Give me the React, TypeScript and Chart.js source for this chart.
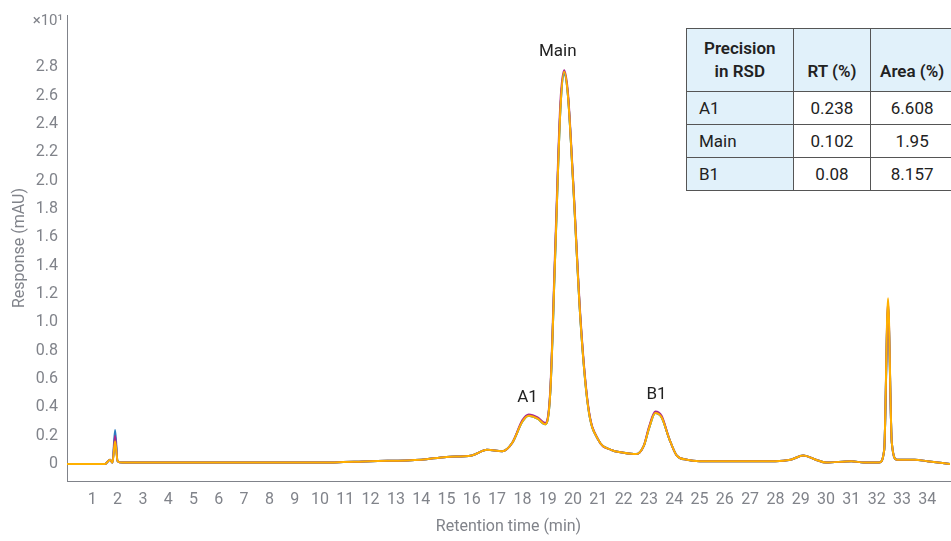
import { useEffect, useRef } from "react";
import { Chart, registerables } from "chart.js";

Chart.register(...registerables);

// retention times (min) and responses (x10 mAU)
const rt = [0, 1.5, 1.7, 1.8, 1.9, 2.0, 2.2, 3, 5, 8, 10, 12, 14, 15, 16, 16.6, 17.2, 17.6, 18.0, 18.25, 18.6, 18.9, 19.1, 19.3, 19.5, 19.65, 19.8, 20.0, 20.3, 20.6, 21.0, 21.5, 22.0, 22.5, 22.8, 23.0, 23.25, 23.5, 23.8, 24.1, 24.5, 25, 27, 28, 28.6, 29.1, 29.6, 30, 31, 31.5, 32.1, 32.3, 32.45, 32.6, 32.8, 33.5, 34, 34.9];
const orange = [0, 0, 0.03, 0.01, 0.16, 0.02, 0.01, 0.01, 0.01, 0.01, 0.01, 0.02, 0.03, 0.05, 0.06, 0.1, 0.09, 0.15, 0.3, 0.34, 0.32, 0.28, 0.5, 1.5, 2.5, 2.77, 2.6, 2.0, 1.0, 0.4, 0.17, 0.1, 0.08, 0.07, 0.13, 0.25, 0.36, 0.33, 0.18, 0.06, 0.03, 0.02, 0.02, 0.02, 0.03, 0.06, 0.03, 0.01, 0.02, 0.01, 0.01, 0.1, 1.17, 0.15, 0.03, 0.03, 0.02, 0.0];
const blue = [0, 0, 0.03, 0.01, 0.24, 0.02, 0.01, 0.01, 0.01, 0.01, 0.01, 0.02, 0.03, 0.05, 0.06, 0.1, 0.09, 0.15, 0.3, 0.34, 0.32, 0.28, 0.5, 1.5, 2.5, 2.75, 2.6, 2.0, 1.0, 0.4, 0.17, 0.1, 0.08, 0.07, 0.13, 0.25, 0.36, 0.33, 0.18, 0.06, 0.03, 0.02, 0.02, 0.02, 0.03, 0.06, 0.03, 0.01, 0.02, 0.01, 0.01, 0.1, 1.1, 0.15, 0.03, 0.03, 0.02, 0.0];
const purple = [0, 0, 0.03, 0.01, 0.2, 0.02, 0.01, 0.01, 0.01, 0.01, 0.01, 0.02, 0.03, 0.05, 0.06, 0.1, 0.09, 0.15, 0.31, 0.35, 0.33, 0.29, 0.52, 1.55, 2.55, 2.78, 2.62, 2.02, 1.02, 0.41, 0.17, 0.1, 0.08, 0.07, 0.13, 0.26, 0.37, 0.34, 0.18, 0.06, 0.03, 0.02, 0.02, 0.02, 0.03, 0.06, 0.03, 0.01, 0.02, 0.01, 0.01, 0.1, 1.14, 0.15, 0.03, 0.03, 0.02, 0.0];
const teal = [0, 0, 0.03, 0.01, 0.18, 0.02, 0.01, 0.01, 0.01, 0.01, 0.01, 0.02, 0.03, 0.05, 0.06, 0.1, 0.09, 0.15, 0.3, 0.34, 0.32, 0.28, 0.5, 1.5, 2.5, 2.76, 2.6, 2.0, 1.0, 0.4, 0.17, 0.1, 0.08, 0.07, 0.13, 0.25, 0.36, 0.33, 0.18, 0.06, 0.03, 0.02, 0.02, 0.02, 0.03, 0.06, 0.03, 0.01, 0.02, 0.01, 0.01, 0.1, 1.12, 0.15, 0.03, 0.03, 0.02, 0.0];

const peakNames = ["A1", "Main", "B1"];
const peakRt = [18.2, 19.4, 23.3];
const peakLabelY = [0.47, 2.91, 0.49];

const tableHead = ["Precision\nin RSD", "RT (%)", "Area (%)"];
const tableRows = [
  ["A1", "0.238", "6.608"],
  ["Main", "0.102", "1.95"],
  ["B1", "0.08", "8.157"],
];

const font = "Roboto, sans-serif";
const grey = "#80838a";

export default function App() {
  const canvasRef = useRef<HTMLCanvasElement>(null);
  const chartRef = useRef<Chart | null>(null);

  useEffect(() => {
    if (!canvasRef.current) return;
    if (chartRef.current) chartRef.current.destroy();

    const series = [
      { data: blue, color: "#2b7bc0", order: 4 },
      { data: teal, color: "#3fb5b0", order: 3 },
      { data: purple, color: "#a8288f", order: 2 },
      { data: orange, color: "#ffb000", order: 1 },
    ];

    const labelsPlugin = {
      id: "labels",
      afterDatasetsDraw(chart: any) {
        const { ctx, scales } = chart;
        ctx.save();
        ctx.font = `17px ${font}`;
        ctx.fillStyle = "#222";
        ctx.textAlign = "center";
        ctx.textBaseline = "middle";
        peakNames.forEach((n, i) => {
          ctx.fillText(n, scales.x.getPixelForValue(peakRt[i]), scales.y.getPixelForValue(peakLabelY[i]));
        });
        ctx.font = `15px ${font}`;
        ctx.fillStyle = grey;
        ctx.textAlign = "right";
        ctx.textBaseline = "top";
        ctx.fillText("×10¹", chart.chartArea.left - 4, 14);
        ctx.restore();
      },
    };

    chartRef.current = new Chart(canvasRef.current, {
      type: "line",
      data: {
        datasets: series.map((s) => ({
          data: rt.map((x, i) => ({ x, y: s.data[i] })),
          borderColor: s.color,
          borderWidth: 2,
          pointRadius: 0,
          cubicInterpolationMode: "monotone" as const,
          order: s.order,
        })),
      },
      options: {
        animation: false,
        responsive: false,
        layout: { padding: { top: 15, right: 1 } },
        plugins: { legend: { display: false }, tooltip: { enabled: false } },
        scales: {
          x: {
            type: "linear",
            min: 0,
            max: 34.9,
            grid: { display: false, drawTicks: true, tickLength: 6 },
            border: { color: grey },
            afterBuildTicks: (axis: any) => {
              const t = [];
              for (let i = 1; i <= 69; i++) t.push({ value: i / 2 });
              axis.ticks = t;
            },
            afterFit: (axis: any) => {
              axis.height = 60;
            },
            ticks: {
              autoSkip: false,
              maxRotation: 0,
              color: grey,
              font: { family: font, size: 16 },
              callback: (v: any) => (Number.isInteger(v) ? String(v) : ""),
            },
            title: { display: true, text: "Retention time (min)", color: grey, font: { family: font, size: 16 }, padding: { top: 6 } },
          },
          y: {
            type: "linear",
            min: -0.12,
            max: 3.17,
            grid: { display: false, drawTicks: true, tickLength: 6 },
            border: { color: grey },
            afterBuildTicks: (axis: any) => {
              const t = [];
              for (let i = -1; i <= 31; i++) t.push({ value: i / 10 });
              axis.ticks = t;
            },
            afterFit: (axis: any) => {
              axis.width = 67;
            },
            ticks: {
              autoSkip: false,
              color: grey,
              font: { family: font, size: 16 },
              callback: (v: any) => {
                const k = Math.round(v * 10);
                if (k < 0 || k > 28 || k % 2 !== 0) return "";
                return k === 0 ? "0" : (k / 10).toFixed(1);
              },
            },
            title: { display: true, text: "Response (mAU)", color: grey, font: { family: font, size: 16 }, padding: { top: 10, bottom: 0 } },
          },
        },
      },
      plugins: [labelsPlugin],
    });

    return () => {
      if (chartRef.current) chartRef.current.destroy();
    };
  }, []);

  const cell = (text: string, i: number, head: boolean, firstCol: boolean) => (
    <td
      key={i}
      style={{
        border: "1px solid #555",
        background: head || firstCol ? "#e1f1fa" : "#fff",
        padding: head ? "0 6px 8px" : "0 12px",
        textAlign: firstCol ? "left" : "center",
        verticalAlign: head ? "bottom" : "middle",
        fontWeight: head ? 600 : 400,
        whiteSpace: "pre-line",
        lineHeight: head ? "23px" : "normal",
      }}
    >
      {firstCol && head ? <div style={{ textAlign: "center" }}>{text}</div> : text}
    </td>
  );

  return (
    <div style={{ position: "fixed", left: 0, top: 0, width: 951, height: 541, background: "#fff", fontFamily: font }}>
      <canvas ref={canvasRef} width={951} height={541} style={{ width: 951, height: 541 }} />
      <table
        style={{
          position: "absolute",
          left: 686,
          top: 28,
          width: 268,
          borderCollapse: "collapse",
          fontSize: 17,
          color: "#222",
          background: "#fff",
        }}
      >
        <colgroup>
          <col style={{ width: 107 }} />
          <col style={{ width: 78 }} />
          <col style={{ width: 83 }} />
        </colgroup>
        <tbody>
          <tr style={{ height: 63 }}>{tableHead.map((t, i) => cell(t, i, true, i === 0))}</tr>
          {tableRows.map((r, ri) => (
            <tr key={ri} style={{ height: 33 }}>
              {r.map((t, i) => cell(t, i, false, i === 0))}
            </tr>
          ))}
        </tbody>
      </table>
    </div>
  );
}
